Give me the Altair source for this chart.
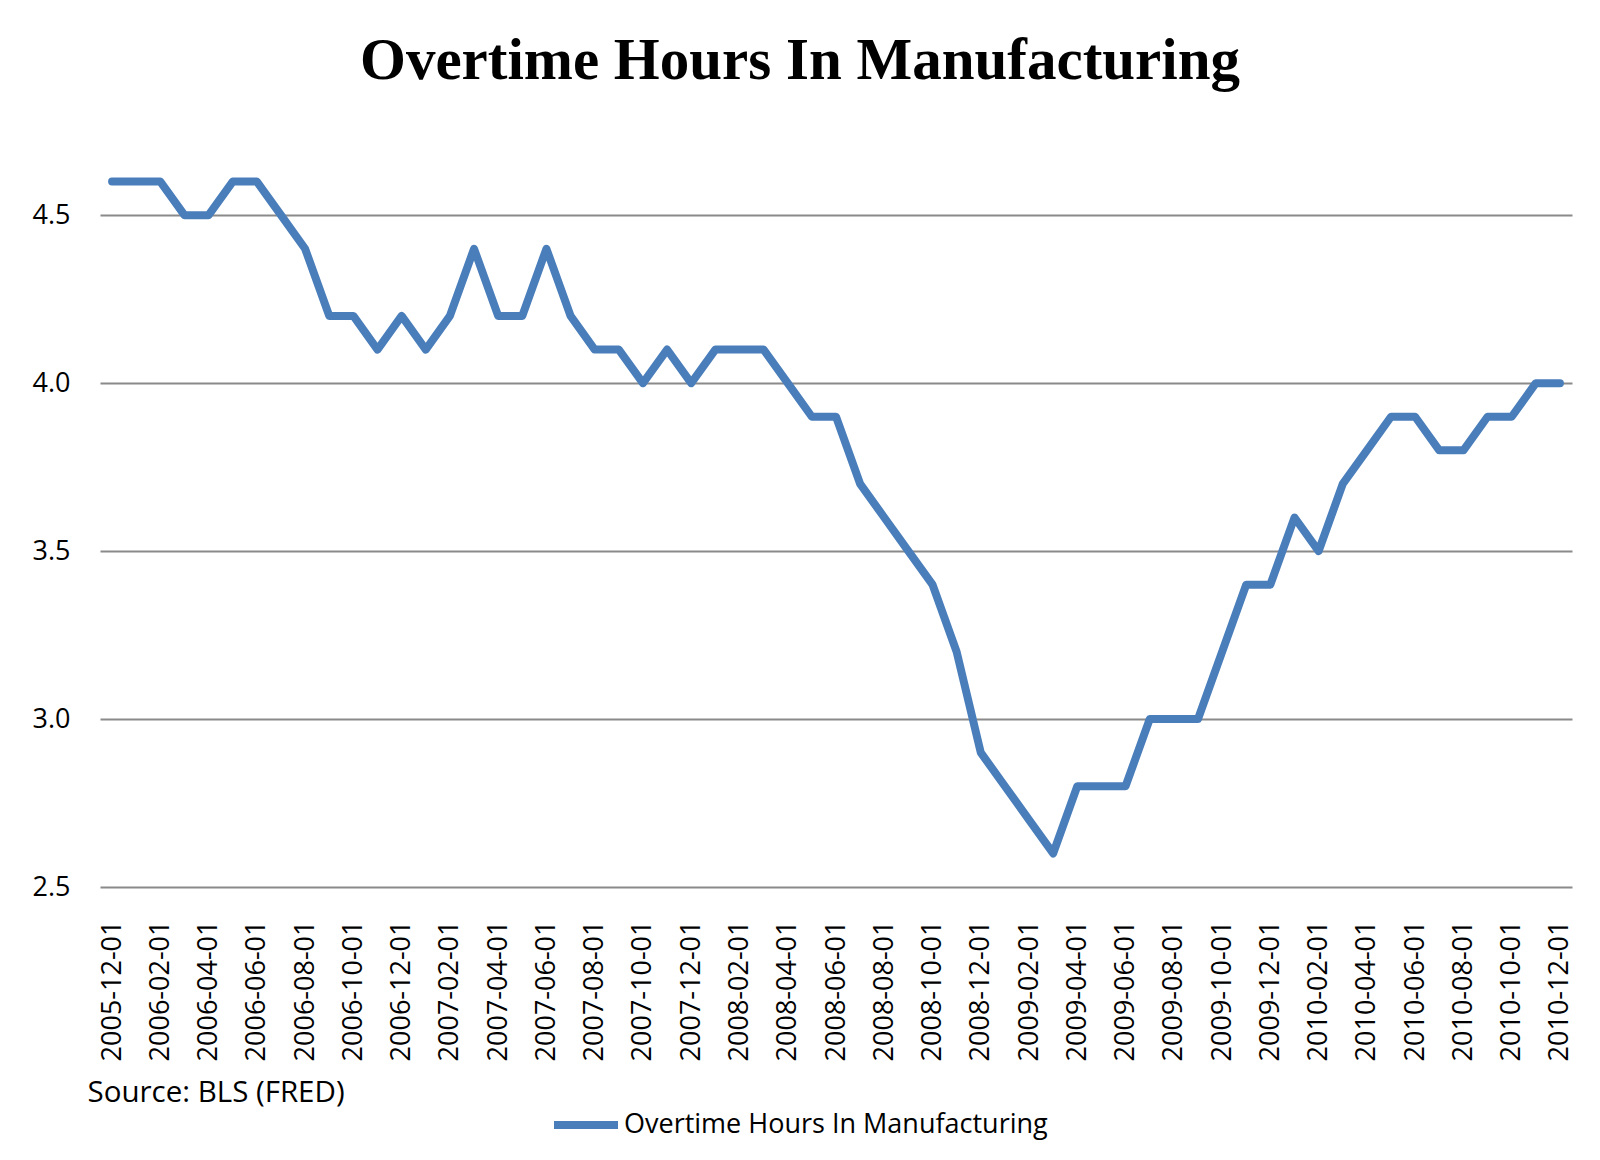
import altair as alt
import pandas as pd

months = [
    "2005-12-01",
    "2006-01-01", "2006-02-01", "2006-03-01", "2006-04-01", "2006-05-01", "2006-06-01",
    "2006-07-01", "2006-08-01", "2006-09-01", "2006-10-01", "2006-11-01", "2006-12-01",
    "2007-01-01", "2007-02-01", "2007-03-01", "2007-04-01", "2007-05-01", "2007-06-01",
    "2007-07-01", "2007-08-01", "2007-09-01", "2007-10-01", "2007-11-01", "2007-12-01",
    "2008-01-01", "2008-02-01", "2008-03-01", "2008-04-01", "2008-05-01", "2008-06-01",
    "2008-07-01", "2008-08-01", "2008-09-01", "2008-10-01", "2008-11-01", "2008-12-01",
    "2009-01-01", "2009-02-01", "2009-03-01", "2009-04-01", "2009-05-01", "2009-06-01",
    "2009-07-01", "2009-08-01", "2009-09-01", "2009-10-01", "2009-11-01", "2009-12-01",
    "2010-01-01", "2010-02-01", "2010-03-01", "2010-04-01", "2010-05-01", "2010-06-01",
    "2010-07-01", "2010-08-01", "2010-09-01", "2010-10-01", "2010-11-01", "2010-12-01",
]

overtime_hours = [
    4.6,
    4.6, 4.6, 4.5, 4.5, 4.6, 4.6, 4.5, 4.4, 4.2, 4.2, 4.1, 4.2,
    4.1, 4.2, 4.4, 4.2, 4.2, 4.4, 4.2, 4.1, 4.1, 4.0, 4.1, 4.0,
    4.1, 4.1, 4.1, 4.0, 3.9, 3.9, 3.7, 3.6, 3.5, 3.4, 3.2, 2.9,
    2.8, 2.7, 2.6, 2.8, 2.8, 2.8, 3.0, 3.0, 3.0, 3.2, 3.4, 3.4,
    3.6, 3.5, 3.7, 3.8, 3.9, 3.9, 3.8, 3.8, 3.9, 3.9, 4.0, 4.0,
]

x_tick_labels = months[::2]
y_tick_values = [2.5, 3.0, 3.5, 4.0, 4.5]
series_name = "Overtime Hours In Manufacturing"
chart_title = "Overtime Hours In Manufacturing"
source_note = "Source: BLS (FRED)"

df = pd.DataFrame({"month": months, "hours": overtime_hours, "series": series_name})

SANS = "Open Sans"
SERIF = "Liberation Serif"

chart = (
    alt.Chart(df)
    .mark_line(strokeWidth=8, strokeCap="round", strokeJoin="round")
    .encode(
        x=alt.X(
            "month:N",
            sort=None,
            scale=alt.Scale(type="point", padding=0.5),
            axis=alt.Axis(
                values=x_tick_labels,
                labelAngle=-90,
                labelPadding=33,
                ticks=False,
                tickSize=0,
                domain=False,
                grid=False,
                labelFont=SANS,
                labelFontSize=27,
                labelColor="#000000",
                title=source_note,
                titleAnchor="start",
                titleAlign="left",
                titleX=-13,
                titleY=214,
                titleBaseline="alphabetic",
                titleFont=SANS,
                titleFontSize=29.5,
                titleFontWeight="normal",
                titleColor="#000000",
            ),
        ),
        y=alt.Y(
            "hours:Q",
            scale=alt.Scale(domain=[2.5, 4.7], nice=False, zero=False),
            axis=alt.Axis(
                values=y_tick_values,
                format=".1f",
                grid=True,
                gridColor="#8a8a8a",
                gridWidth=2,
                domain=False,
                ticks=False,
                tickSize=0,
                labelPadding=30,
                labelFont=SANS,
                labelFontSize=27,
                labelColor="#000000",
                title=None,
            ),
        ),
        color=alt.Color(
            "series:N",
            scale=alt.Scale(range=["#4a7ebb"]),
            legend=alt.Legend(
                title=None,
                orient="none",
                legendX=450,
                legendY=941,
                symbolType="stroke",
                symbolSize=4096,
                symbolStrokeWidth=8,
                labelFont=SANS,
                labelFontSize=27,
                labelColor="#000000",
                labelOffset=2,
                labelLimit=0,
                padding=0,
            ),
        ),
    )
    .properties(
        width=1472,
        height=739,
        title=alt.TitleParams(
            text=chart_title,
            font=SERIF,
            fontSize=59,
            fontWeight="bold",
            color="#000000",
            anchor="middle",
            frame="group",
            dx=-36,
            offset=10,
            baseline="alphabetic",
        ),
        autosize=alt.AutoSizeParams(type="none"),
        padding={"left": 92, "top": 140, "right": 20, "bottom": 265},
    )
    .configure_view(stroke=None)
)

chart.save("out.html", embed_options={"renderer": "svg", "actions": False})
